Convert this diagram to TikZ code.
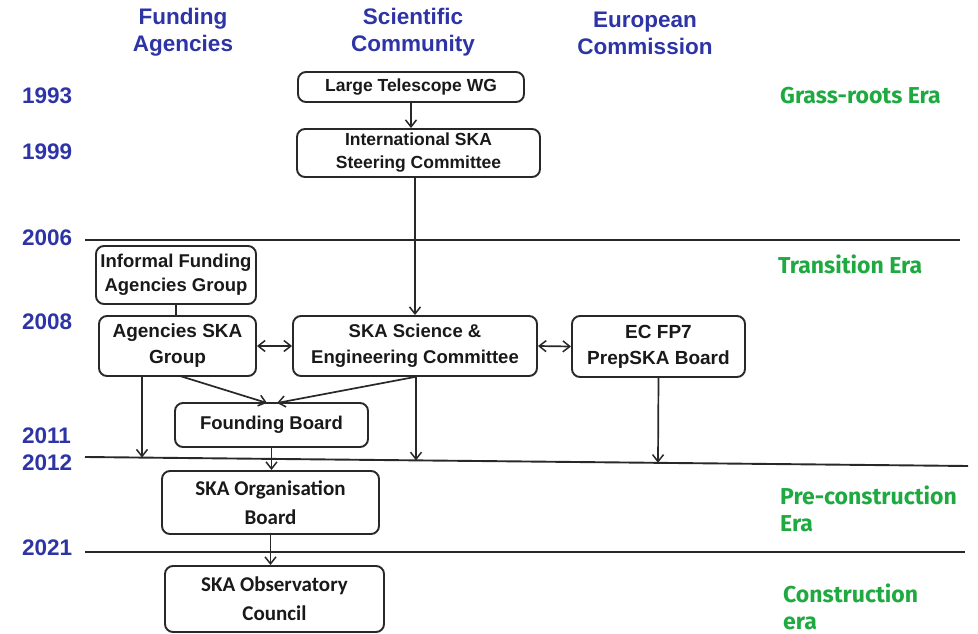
\documentclass[tikz,border=0pt]{standalone}
\usepackage{fontspec}
\setmainfont{Liberation Sans}
\newfontfamily\erafont{Fira Sans}
\newfontfamily\narrowfont{Carlito}
\usetikzlibrary{arrows.meta}
\definecolor{hdrblue}{RGB}{45,52,165}
\definecolor{eragreen}{RGB}{30,170,65}
\definecolor{boxline}{RGB}{40,40,40}
\begin{document}
\begin{tikzpicture}[x=1pt,y=-1pt,
  box/.style={draw=boxline, line width=1.9pt, rounded corners=8pt, align=center,
    font=\fontsize{18}{25}\selectfont\bfseries, inner sep=0pt, text=black!90},
  nbox/.style={box, font=\fontsize{21}{29}\selectfont\narrowfont\bfseries},
  conn/.style={line width=1.7pt, draw=boxline, -{Straight Barb[length=7pt,width=11pt,line width=1.5pt]}},
  dconn/.style={line width=1.7pt, draw=boxline, {Straight Barb[length=7pt,width=11pt,line width=1.5pt]}-{Straight Barb[length=7pt,width=11pt,line width=1.5pt]}},
  plain/.style={line width=1.7pt, draw=boxline},
  era/.style={line width=1.9pt, draw=boxline},
  hdr/.style={align=center, text=hdrblue, font=\fontsize{22.5}{27}\selectfont\bfseries, inner sep=0pt},
  yr/.style={anchor=west, text=hdrblue, font=\fontsize{22.5}{24}\selectfont\bfseries, inner sep=0pt},
  eralbl/.style={anchor=west, align=left, text=eragreen, font=\fontsize{23}{27}\selectfont\erafont\bfseries, inner sep=0pt}
]
\useasboundingbox (0,0) rectangle (978,634);

% headers
\node[hdr] (hfa) at (183,32) {Funding\\Agencies};
\node[hdr] (hsc) at (413,32) {Scientific\\Community};
\node[hdr] (hec) at (645,33) {European\\Commission};

% years
\node[yr] (y1993) at (22,96) {1993};
\node[yr] (y1999) at (22,152) {1999};
\node[yr] (y2006) at (22,238) {2006};
\node[yr] (y2008) at (22,322) {2008};
\node[yr] (y2011) at (22,436) {2011};
\node[yr] (y2012) at (22,463) {2012};
\node[yr] (y2021) at (22,548) {2021};

% eras
\node[eralbl] (e1) at (780,96) {Grass-roots Era};
\node[eralbl] (e2) at (778,264) {Transition Era};
\node[eralbl] (e3) at (780,508.5) {Pre-construction\\Era};
\node[eralbl] (e4) at (783,606.5) {Construction\\era};

% era lines
\coordinate (l1a) at (85,240); \coordinate (l1b) at (960,240);
\coordinate (l2a) at (85,457); \coordinate (l2b) at (968,466);
\coordinate (l3a) at (85,552); \coordinate (l3b) at (965,552);
\draw[era] (l1a) -- (l1b);
\draw[era] (l2a) -- (l2b);
\draw[era] (l3a) -- (l3b);

% boxes
\node[box, minimum width=226, minimum height=30, font=\fontsize{17.5}{22}\selectfont\bfseries] (ltwg) at (411,87) {Large Telescope WG};
\node[box, minimum width=243, minimum height=48, font=\fontsize{17.5}{23}\selectfont\bfseries] (issc) at (418.5,153) {International SKA\\Steering Committee};
\node[box, minimum width=160, minimum height=58, font=\fontsize{18.5}{24}\selectfont\bfseries] (ifag) at (176,275) {Informal Funding\\Agencies Group};
\node[box, minimum width=157, minimum height=60, font=\fontsize{19}{26}\selectfont\bfseries] (asg) at (177.5,346) {Agencies SKA\\Group};
\node[box, minimum width=244, minimum height=60, font=\fontsize{18.5}{26}\selectfont\bfseries] (ssec) at (415,346) {SKA Science \&\\Engineering Committee};
\node[box, minimum width=173, minimum height=61, font=\fontsize{19}{26}\selectfont\bfseries] (ec) at (658.5,346.5) {EC FP7\\PrepSKA Board};
\node[box, minimum width=193, minimum height=44, font=\fontsize{18.5}{24}\selectfont\bfseries] (fb) at (271.5,425) {Founding Board};
\node[nbox, minimum width=217, minimum height=63] (sob) at (270.5,502.5) {SKA Organisation\\Board};
\node[nbox, minimum width=219, minimum height=66] (soc) at (274.5,599) {SKA Observatory\\Council};

% connectors
\draw[conn] (ltwg.south) -- (ltwg.south |- issc.north);
\draw[conn] (ssec.north |- issc.south) -- (ssec.north);
\draw[plain] (ifag.south) -- (ifag.south |- asg.north);
\draw[dconn] (asg.east) -- (ssec.west);
\draw[dconn] (ssec.east) -- (ec.west);
\coordinate (fbl) at (267,403);
\coordinate (fbr) at (277,403);
\coordinate (asgb) at (180,376);
\draw[conn] (asgb) -- (fbl);
\draw[conn] (ssec.south) -- (fbr);
\coordinate (t1) at (142,457.6);
\coordinate (t2) at (416,460.4);
\coordinate (t3) at (658,462.8);
\draw[conn] (t1 |- asg.south) -- (t1);
\draw[conn] (t2 |- ssec.south) -- (t2);
\draw[conn] (ec.south) -- (t3);
\draw[conn] (fb.south) -- (fb.south |- sob.north);
\draw[conn] (sob.south) -- (sob.south |- soc.north);
\end{tikzpicture}
\end{document}
